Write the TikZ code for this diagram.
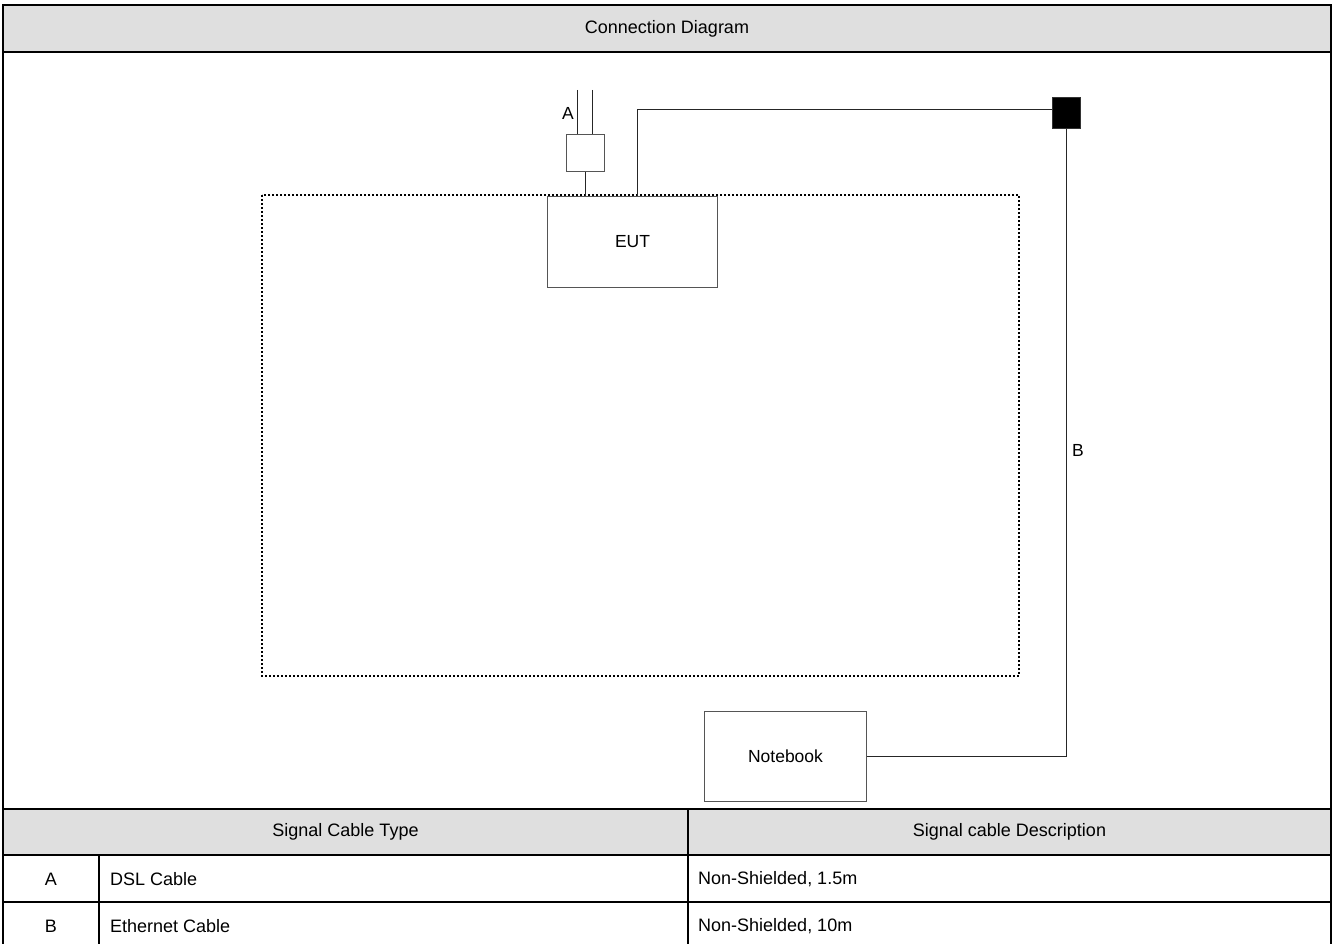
\documentclass[tikz,border=0pt]{standalone}
\usepackage{fontspec}
\setmainfont{Liberation Sans}
\definecolor{hdrgray}{HTML}{DFDFDF}
\definecolor{boxline}{HTML}{555555}
\begin{document}
\begin{tikzpicture}[x=1pt,y=-1pt,
  frame/.style={line width=2.6pt},
  gridline/.style={line width=2pt},
  box/.style={draw=boxline, line width=1pt, fill=white, inner sep=0pt, anchor=north west},
  cable/.style={draw=black!85, line width=1pt},
  lbl/.style={font=\fontsize{17.5}{20}\selectfont, inner sep=0pt},
  cell/.style={font=\fontsize{18}{21}\selectfont, inner sep=0pt}]
\useasboundingbox (0,0) rectangle (1338,944);
% grey header fills
\fill[hdrgray] (3,5) rectangle (1331,52);
\fill[hdrgray] (3,809) rectangle (1331,855);
% table lines
\draw[gridline] (3,52) -- (1331,52);
\draw[gridline] (3,809) -- (1331,809);
\draw[gridline] (3,855) -- (1331,855);
\draw[gridline] (3,902) -- (1331,902);
\draw[gridline] (99,855) -- (99,950);
\draw[gridline] (688,809) -- (688,950);
\draw[frame] (3,950) -- (3,5) -- (1331,5) -- (1331,950);
% texts of table
\node[cell] (title) at (667,28.5) {Connection Diagram};
\node[cell] (h1) at (345.5,832) {Signal Cable Type};
\node[cell] (h2) at (1009.5,832) {Signal cable Description};
\node[cell] (ra) at (51,879) {A};
\node[cell, anchor=west] (ra1) at (110,879) {DSL Cable};
\node[cell, anchor=west] (ra2) at (698,879) {Non-Shielded, 1.5m};
\node[cell] (rb) at (51,926) {B};
\node[cell, anchor=west] (rb1) at (110,926) {Ethernet Cable};
\node[cell, anchor=west] (rb2) at (698,926) {Non-Shielded, 10m};
% diagram
\node[box, minimum width=170pt, minimum height=91pt, font=\fontsize{17.5}{20}\selectfont] (eut) at (547,196) {EUT};
\draw[line width=2pt, dash pattern=on 2pt off 2pt] (262,195) rectangle (1019,676);
\node[box, minimum width=38pt, minimum height=37pt] (adp) at (566,134) {};
\node[box, fill=black, draw=black!80, minimum width=28pt, minimum height=31pt] (sq) at (1052,97) {};
\node[box, minimum width=162pt, minimum height=90pt, font=\fontsize{17.5}{20}\selectfont] (nb) at (704,711) {Notebook};
\coordinate (a1) at (577,90);
\coordinate (a2) at (592,90);
\coordinate (bup) at (637,110);
\draw[cable] (a1) -- (a1 |- adp.north);
\draw[cable] (a2) -- (a2 |- adp.north);
\draw[cable] (adp.south) -- (adp.south |- eut.north);
\draw[cable] (bup |- eut.north) -- (bup) -- (bup -| sq.west);
\draw[cable] (sq.south) -- (sq.south |- nb.east) -- (nb.east);
\node[lbl] (la) at (568,113) {A};
\node[lbl] (lb) at (1078,450) {B};
\end{tikzpicture}
\end{document}
